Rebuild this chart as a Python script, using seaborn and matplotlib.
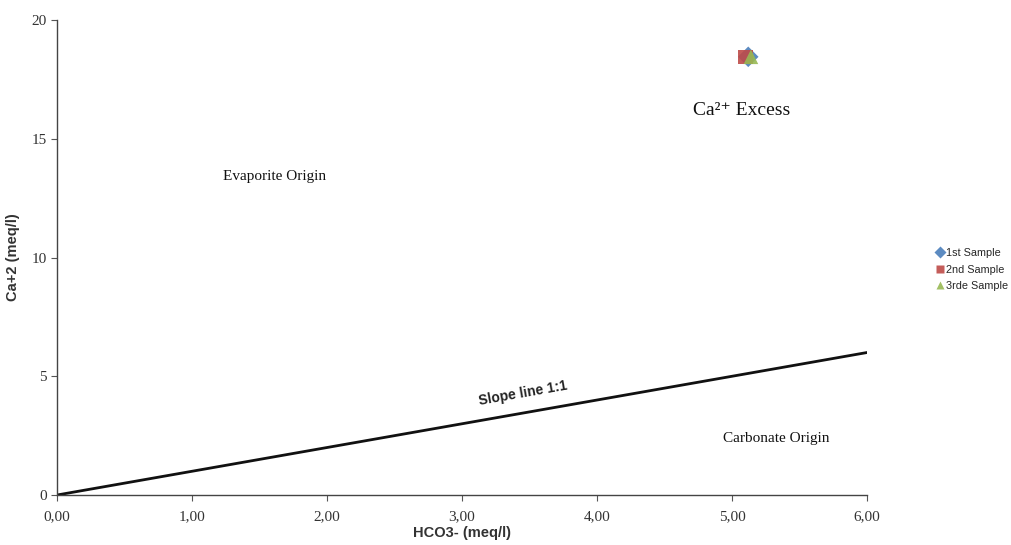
import pandas as pd
import numpy as np
import matplotlib.pyplot as plt
import seaborn as sns

# Data
samples = ['1st Sample', '2nd Sample', '3rde Sample']
hco3 = [5.12, 5.10, 5.14]
ca = [18.45, 18.45, 18.45]
colors = ['#4a7ebb', '#be4b48', '#98b954']
markers = ['D', 's', '^']

slope_x = [0, 6]
slope_y = [0, 6]

x_ticks = [0, 1, 2, 3, 4, 5, 6]
y_ticks = [0, 5, 10, 15, 20]

df = pd.DataFrame({'sample': samples, 'HCO3': hco3, 'Ca': ca})

sns.set_style('ticks')
fig = plt.figure(figsize=(10.11, 5.45), dpi=100)
ax = fig.add_axes([0.0564, 0.0917, 0.8012, 0.8716])

# Slope line 1:1
sns.lineplot(x=slope_x, y=slope_y, color='#111111', linewidth=2, ax=ax)

# Samples
sns.scatterplot(data=df, x='HCO3', y='Ca', hue='sample', style='sample',
                palette=colors, markers=markers, s=110, edgecolor='none',
                alpha=0.9, ax=ax, zorder=3)

ax.set_xlim(0, 6)
ax.set_ylim(0, 20)
ax.set_xticks(x_ticks)
ax.set_xticklabels(['{:.2f}'.format(v).replace('.', ',') for v in x_ticks],
                   fontfamily='Liberation Serif', fontsize=11, color='#333333')
ax.set_yticks(y_ticks)
ax.set_yticklabels([str(v) for v in y_ticks],
                   fontfamily='Liberation Serif', fontsize=11, color='#333333')
ax.tick_params(direction='out', length=4, width=0.8, color='#555555')
ax.tick_params(axis='x', pad=7)
sns.despine(ax=ax)
for sp in ['left', 'bottom']:
    ax.spines[sp].set_color('#444444')
    ax.spines[sp].set_linewidth(1)

ax.set_xlabel('HCO3- (meq/l)', fontfamily='Liberation Sans', fontsize=10.5,
              fontweight='bold', color='#333333', labelpad=2)
ax.set_ylabel('Ca+2 (meq/l)', fontfamily='Liberation Sans', fontsize=10.5,
              fontweight='bold', color='#333333', labelpad=8)

# Region annotations
ax.text(5.07, 16.2, 'Ca²⁺ Excess', fontfamily=['Liberation Serif', 'DejaVu Serif'],
        fontsize=14, ha='center', va='center', color='#111111')
ax.text(1.61, 13.4, 'Evaporite Origin', fontfamily='Liberation Serif', fontsize=11,
        ha='center', va='center', color='#111111')
ax.text(5.33, 2.4, 'Carbonate Origin', fontfamily='Liberation Serif', fontsize=11,
        ha='center', va='center', color='#111111')
ax.text(3.45, 4.3, 'Slope line 1:1', fontfamily='Liberation Sans', fontsize=10,
        fontweight='bold', rotation=10, ha='center', va='center', color='#222222')

handles, labels = ax.get_legend_handles_labels()
ax.get_legend().remove()
fig.legend(handles, labels, loc='center left', bbox_to_anchor=(0.924, 0.505),
           frameon=False, prop={'family': 'Liberation Sans', 'size': 7.8},
           handletextpad=0.0, markerscale=0.55, labelspacing=0.6,
           handlelength=1.1, borderaxespad=0, borderpad=0)

fig.savefig('out.png', dpi=100)
